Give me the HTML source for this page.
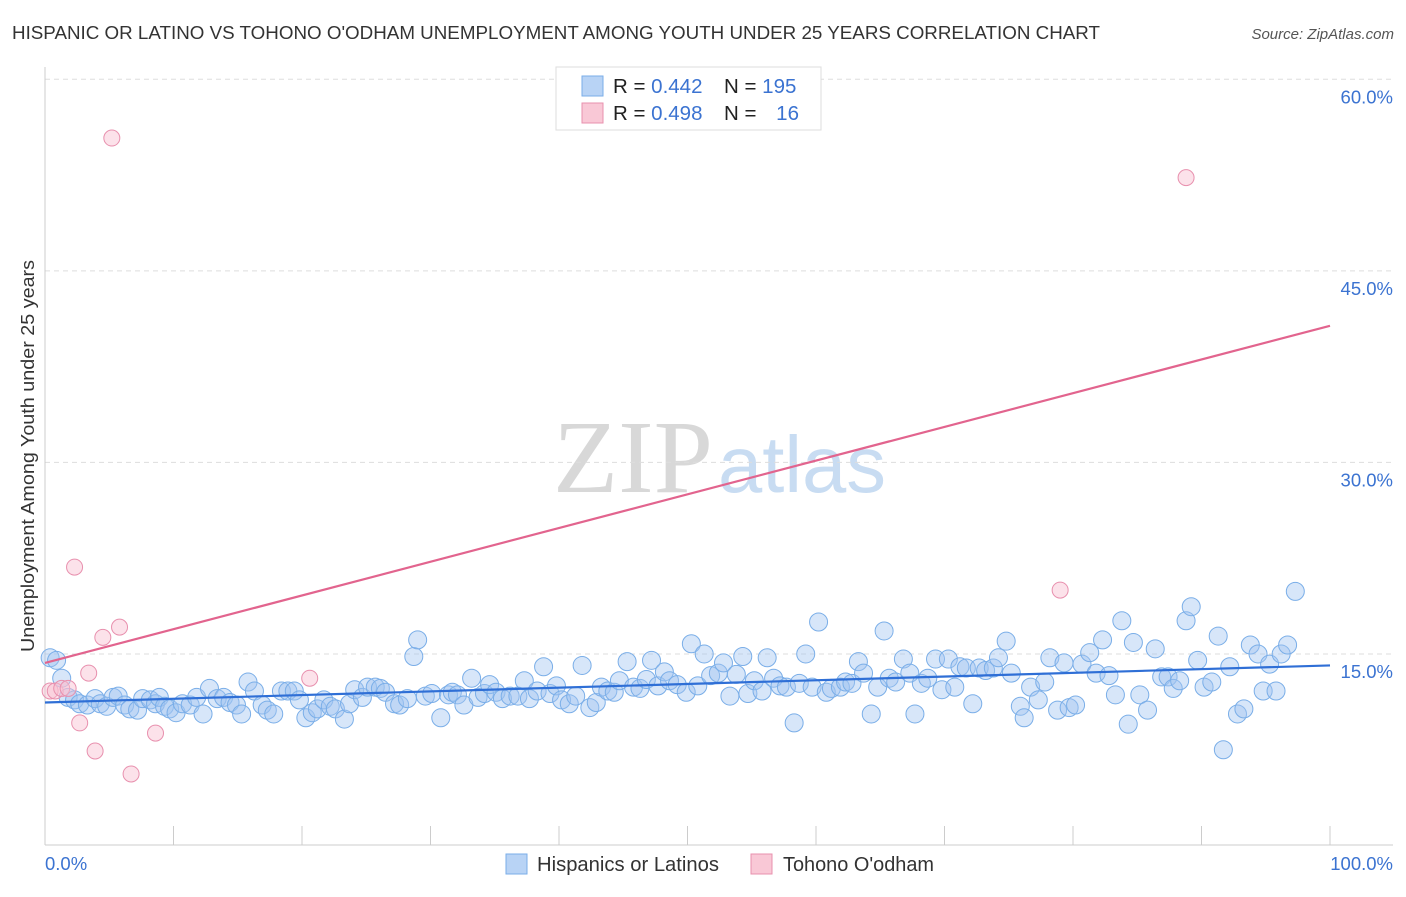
<!DOCTYPE html>
<html><head><meta charset="utf-8"><style>
body{margin:0;background:#fff;width:1406px;height:892px;overflow:hidden;font-family:"Liberation Sans",sans-serif}
</style></head><body>
<svg id="chart" width="1406" height="892" xmlns="http://www.w3.org/2000/svg" font-family="Liberation Sans, sans-serif">
<text x="12" y="39" font-size="18" fill="#333" textLength="1088" lengthAdjust="spacingAndGlyphs">HISPANIC OR LATINO VS TOHONO O'ODHAM UNEMPLOYMENT AMONG YOUTH UNDER 25 YEARS CORRELATION CHART</text>
<text x="1394" y="39" font-size="15" fill="#555" text-anchor="end" font-style="italic">Source: ZipAtlas.com</text>
<g>
<text x="553" y="492" font-size="104" fill="#d8d8d8" font-family="Liberation Serif, serif" textLength="160" lengthAdjust="spacingAndGlyphs">ZIP</text>
<text x="718" y="492" font-size="80" fill="#c8dcf2" textLength="168" lengthAdjust="spacingAndGlyphs">atlas</text>
</g>
<g id="grid"></g>
<g id="axes"></g>
<g id="trends"></g>
<g id="points"></g>
<text transform="translate(34,456) rotate(-90)" font-size="18" fill="#333" text-anchor="middle" textLength="392" lengthAdjust="spacingAndGlyphs">Unemployment Among Youth under 25 years</text>
<g>
<rect x="556" y="67" width="265" height="63" fill="#fff" stroke="#ddd"/>
<rect x="582" y="76" width="21" height="20" fill="#b8d3f5" stroke="#7aaee8"/>
<rect x="582" y="103" width="21" height="20" fill="#f9c8d6" stroke="#e890ae"/>
<text x="613" y="93" font-size="20.5" fill="#222">R = <tspan fill="#3b73d1">0.442</tspan></text>
<text x="724" y="93" font-size="20.5" fill="#222">N = <tspan fill="#3b73d1">195</tspan></text>
<text x="613" y="120" font-size="20.5" fill="#222">R = <tspan fill="#3b73d1">0.498</tspan></text>
<text x="724" y="120" font-size="20.5" fill="#222">N = <tspan fill="#3b73d1" dx="14">16</tspan></text>
</g>
<g>
<rect x="506" y="854" width="21" height="20" fill="#b8d3f5" stroke="#7aaee8"/>
<text x="537" y="871" font-size="20" fill="#333" textLength="182" lengthAdjust="spacingAndGlyphs">Hispanics or Latinos</text>
<rect x="751" y="854" width="21" height="20" fill="#f9c8d6" stroke="#e890ae"/>
<text x="783" y="871" font-size="20" fill="#333" textLength="151" lengthAdjust="spacingAndGlyphs">Tohono O'odham</text>
</g>
</svg>
<script>
const yTicks=[15,30,45,60];
const xTickLabels=["0.0%","100.0%"];
const blueX=[0.4,0.9,1.3,1.8,2.3,2.7,3.3,3.9,4.3,4.8,5.3,5.7,6.2,6.6,7.2,7.6,8.2,8.6,8.9,9.3,9.7,10.2,10.7,11.3,11.8,12.3,12.8,13.4,13.9,14.4,14.9,15.3,15.8,16.3,16.9,17.3,17.8,18.4,18.9,19.4,19.8,20.3,20.8,21.2,21.7,22.2,22.6,23.3,23.7,24.1,24.7,25.1,25.7,26.1,26.5,27.2,27.6,28.2,28.7,29.0,29.6,30.1,30.8,31.4,31.7,32.1,32.6,33.2,33.7,34.2,34.6,35.1,35.6,36.2,36.8,37.3,37.7,38.3,38.8,39.3,39.8,40.2,40.8,41.3,41.8,42.4,42.9,43.3,43.8,44.3,44.7,45.3,45.8,46.3,46.8,47.2,47.7,48.2,48.6,49.2,49.9,50.3,50.8,51.3,51.8,52.4,52.8,53.3,53.8,54.3,54.7,55.2,55.8,56.2,56.7,57.2,57.7,58.3,58.7,59.2,59.7,60.2,60.8,61.2,61.9,62.3,62.8,63.3,63.7,64.3,64.8,65.3,65.7,66.2,66.8,67.3,67.7,68.2,68.7,69.3,69.8,70.3,70.8,71.2,71.7,72.2,72.7,73.2,73.8,74.2,74.8,75.2,75.9,76.2,76.7,77.3,77.8,78.2,78.8,79.3,79.7,80.2,80.7,81.3,81.8,82.3,82.8,83.3,83.8,84.3,84.7,85.2,85.8,86.4,86.9,87.4,87.8,88.3,88.8,89.2,89.7,90.2,90.8,91.3,91.7,92.2,92.8,93.3,93.8,94.4,94.8,95.3,95.8,96.2,96.7,97.3];
const blueY=[14.7,14.5,13.1,11.6,11.4,11.1,11.0,11.5,11.1,10.9,11.6,11.7,11.0,10.7,10.6,11.5,11.4,11.1,11.6,10.9,10.7,10.4,11.1,11.0,11.6,10.3,12.3,11.5,11.6,11.2,11.0,10.3,12.8,12.1,11.0,10.6,10.3,12.1,12.1,12.1,11.4,10.0,10.4,10.7,11.4,10.9,10.7,9.9,11.1,12.2,11.6,12.4,12.4,12.3,12.0,11.1,11.0,11.5,14.8,16.1,11.7,11.9,10.0,11.8,12.0,11.8,11.0,13.1,11.6,11.9,12.6,12.0,11.5,11.7,11.7,12.9,11.5,12.1,14.0,11.9,12.5,11.4,11.1,11.7,14.1,10.8,11.2,12.4,12.1,12.0,12.9,14.4,12.4,12.3,13.0,14.5,12.5,13.6,12.9,12.6,12.0,15.8,12.5,15.0,13.3,13.5,14.3,11.7,13.4,14.8,11.9,12.9,12.1,14.7,13.1,12.5,12.4,9.6,12.7,15.0,12.4,17.5,12.0,12.3,12.4,12.8,12.7,14.4,13.5,10.3,12.4,16.8,13.1,12.8,14.6,13.5,10.3,12.7,13.1,14.6,12.2,14.6,12.4,14.0,13.9,11.1,13.9,13.7,13.9,14.7,16.0,13.5,10.9,10.0,12.4,11.4,12.8,14.7,10.6,14.3,10.8,11.0,14.2,15.1,13.5,16.1,13.3,11.8,17.6,9.5,15.9,11.8,10.6,15.4,13.2,13.2,12.3,12.9,17.6,18.7,14.5,12.4,12.8,16.4,7.5,14.0,10.3,10.7,15.7,15.0,12.1,14.2,12.1,15.0,15.7,19.9];
const pinkX=[0.4,0.8,1.3,1.8,2.3,2.7,3.4,3.9,4.5,5.2,5.8,6.7,8.6,20.6,79.0,88.8];
const pinkY=[12.1,12.1,12.3,12.3,21.8,9.6,13.5,7.4,16.3,55.4,17.1,5.6,8.8,13.1,20.0,52.3];
const blueTrend=[11.2,14.1];
const pinkTrend=[14.3,40.7];

const X0=45,X1=1330,Y0=845.5,PXY=12.77;
const sx=v=>X0+(X1-X0)*v/100;
const sy=v=>Y0-v*PXY;
const NS="http://www.w3.org/2000/svg";
function mk(tag,attrs,parent){const e=document.createElementNS(NS,tag);for(const k in attrs)e.setAttribute(k,attrs[k]);parent.appendChild(e);return e;}
const grid=document.getElementById('grid'),axes=document.getElementById('axes'),tr=document.getElementById('trends'),pts=document.getElementById('points');
yTicks.forEach(t=>{
  const l=mk('line',{x1:45,x2:1393,y1:sy(t),y2:sy(t),stroke:'#ddd','stroke-dasharray':'5,4'},grid);
  
  
  const tx=mk('text',{x:1393,y:sy(t)+24,'font-size':18.5,fill:'#3b73d1','text-anchor':'end'},axes);
  tx.textContent=t.toFixed(1)+'%';
  
  
});
mk('line',{x1:45,x2:45,y1:67,y2:845,stroke:'#ccc'},axes);
mk('line',{x1:45,x2:1393,y1:845,y2:845,stroke:'#ccc'},axes);
for(let i=0;i<=10;i++){
  const t=mk('line',{x1:sx(i*10),x2:sx(i*10),y1:826,y2:845,stroke:'#ccc'},axes);
  
  
}
const xl0=mk('text',{x:45,y:870,'font-size':18.5,fill:'#3b73d1'},axes);xl0.textContent=xTickLabels[0];


const xl1=mk('text',{x:1393,y:870,'font-size':18.5,fill:'#3b73d1','text-anchor':'end'},axes);xl1.textContent=xTickLabels[1];


blueX.forEach((x,i)=>{
  const c=mk('circle',{cx:sx(x),cy:sy(blueY[i]),r:9,fill:'rgba(160,196,240,0.42)',stroke:'#7aaee8','stroke-width':1},pts);
  
  
});
pinkX.forEach((x,i)=>{
  const c=mk('circle',{cx:sx(x),cy:sy(pinkY[i]),r:8,fill:'rgba(248,190,208,0.45)',stroke:'#e890ae','stroke-width':1},pts);
  
  
});
const bl=mk('line',{x1:sx(0),y1:sy(blueTrend[0]),x2:sx(100),y2:sy(blueTrend[1]),stroke:'#2f6fd6','stroke-width':2.2},pts);


const pl=mk('line',{x1:sx(0),y1:sy(pinkTrend[0]),x2:sx(100),y2:sy(pinkTrend[1]),stroke:'#e2648e','stroke-width':2.2},pts);


</script>
</body></html>
